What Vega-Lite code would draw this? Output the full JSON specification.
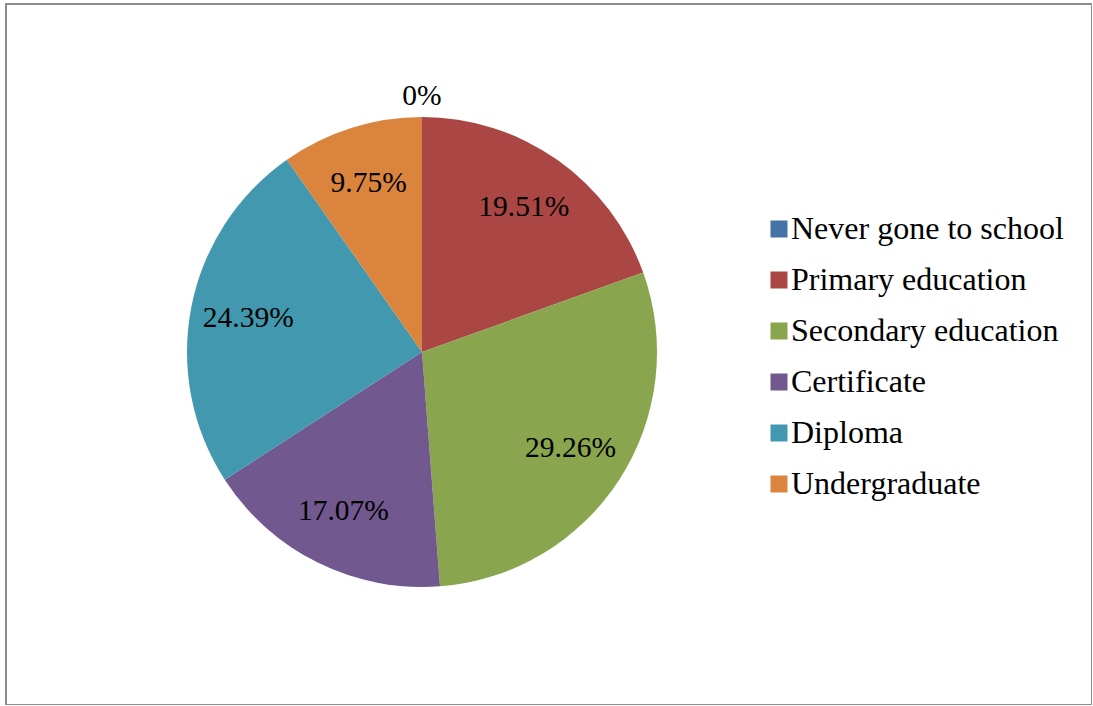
{
  "$schema": "https://vega.github.io/schema/vega-lite/v6.json",
  "autosize": {"type": "none"},
  "width": 1086,
  "height": 701,
  "padding": {"left": 6, "top": 4, "right": 0, "bottom": 0},
  "background": "white",
  "view": {"stroke": "#8c8c8c", "strokeWidth": 2, "fill": "white"},
  "config": {
    "view": {"stroke": "#8c8c8c", "strokeWidth": 2},
    "font": "Liberation Serif"
  },
  "data": {
    "values": [
      {"category": "Never gone to school", "value": 0, "rank": 1, "label": "0%"},
      {"category": "Primary education", "value": 19.51, "rank": 2, "label": "19.51%"},
      {"category": "Secondary education", "value": 29.26, "rank": 3, "label": "29.26%"},
      {"category": "Certificate", "value": 17.07, "rank": 4, "label": "17.07%"},
      {"category": "Diploma", "value": 24.39, "rank": 5, "label": "24.39%"},
      {"category": "Undergraduate", "value": 9.75, "rank": 6, "label": "9.75%"}
    ]
  },
  "encoding": {
    "theta": {"field": "value", "type": "quantitative", "stack": true},
    "order": {"field": "rank", "type": "quantitative"}
  },
  "layer": [
    {
      "mark": {"type": "arc", "radius": 235, "xOffset": -127, "yOffset": -2.5, "stroke": null},
      "encoding": {
        "color": {
          "field": "category",
          "type": "nominal",
          "sort": ["Never gone to school", "Primary education", "Secondary education", "Certificate", "Diploma", "Undergraduate"],
          "scale": {
            "domain": ["Never gone to school", "Primary education", "Secondary education", "Certificate", "Diploma", "Undergraduate"],
            "range": ["#4572a7", "#aa4643", "#89a54e", "#71588f", "#4198af", "#db843d"]
          },
          "legend": {
            "title": null,
            "orient": "none",
            "legendX": 757,
            "legendY": 209,
            "padding": 0,
            "symbolType": "square",
            "symbolSize": 289,
            "symbolStrokeWidth": 0,
            "symbolOpacity": 1,
            "labelFont": "Liberation Serif",
            "labelFontSize": 32,
            "labelColor": "black",
            "labelOffset": -4,
            "labelLimit": 400,
            "rowPadding": 19
          }
        }
      }
    },
    {
      "transform": [{"filter": "datum.value > 0"}],
      "mark": {"type": "text", "radius": 177, "xOffset": -127, "yOffset": -2.5, "font": "Liberation Serif", "fontSize": 29.5, "color": "black", "baseline": "middle", "align": "center"},
      "encoding": {"text": {"field": "label"}}
    },
    {
      "transform": [{"filter": "datum.value == 0"}],
      "mark": {"type": "text", "radius": 256, "xOffset": -127, "yOffset": -2.5, "font": "Liberation Serif", "fontSize": 29.5, "color": "black", "baseline": "middle", "align": "center"},
      "encoding": {"text": {"field": "label"}}
    }
  ]
}
